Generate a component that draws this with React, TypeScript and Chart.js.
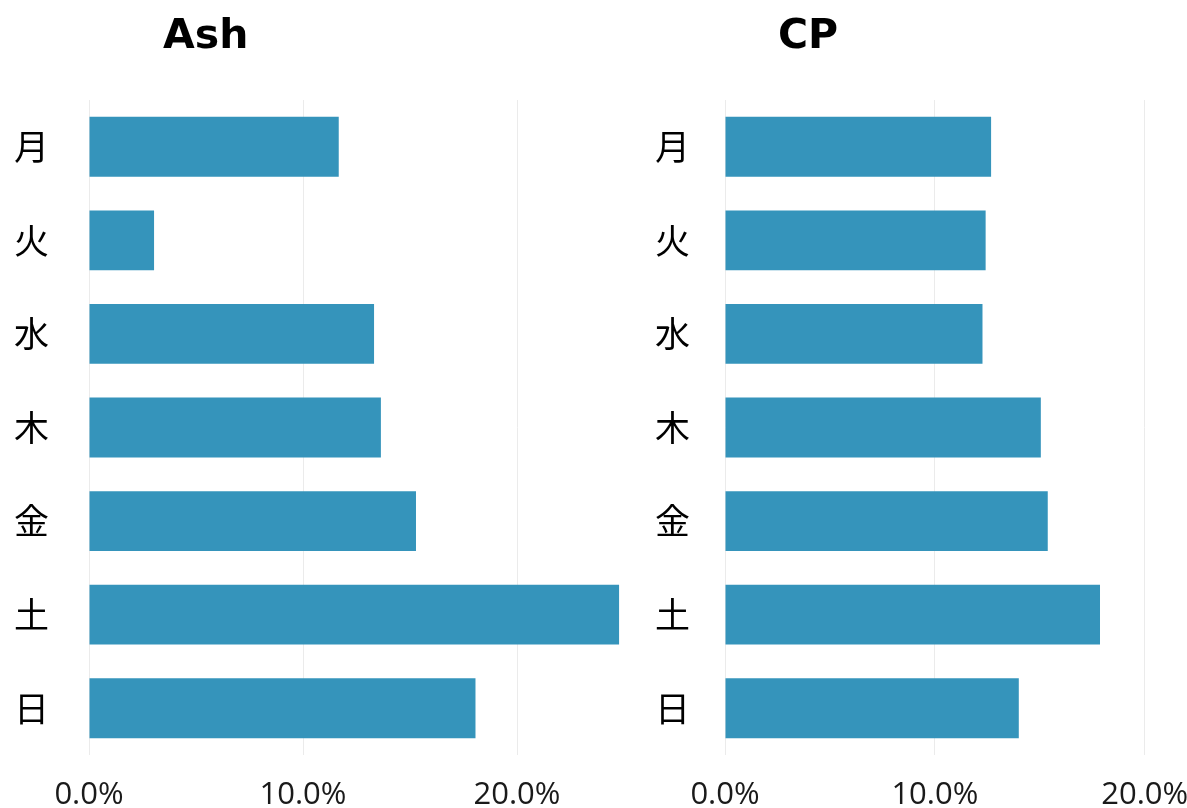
import React, { useEffect, useRef } from "react";
import { Chart, registerables } from "chart.js";

Chart.register(...registerables);

const categories = ["月", "火", "水", "木", "金", "土", "日"];
const ashValues = [11.67, 3.04, 13.32, 13.64, 15.28, 24.77, 18.06];
const cpValues = [12.68, 12.42, 12.27, 15.05, 15.38, 17.87, 14.0];
const tickValues = [0, 10, 20];
const titleAsh = "Ash";
const titleCp = "CP";

const BAR_COLOR = "#3594bb";
const GRID_COLOR = "#ebebeb";

type PanelProps = {
  values: number[];
  xMax: number;
  left: number;
  width: number;
  yAxisWidth: number;
  padRight: number;
  labelPad: number;
};

function Panel({ values, xMax, left, width, yAxisWidth, padRight, labelPad }: PanelProps) {
  const ref = useRef<HTMLCanvasElement | null>(null);
  useEffect(() => {
    if (!ref.current) return;
    const chart = new Chart(ref.current, {
      type: "bar",
      data: {
        labels: categories,
        datasets: [
          {
            data: values,
            backgroundColor: BAR_COLOR,
            borderWidth: 0,
            categoryPercentage: 1,
            barPercentage: 0.64,
          },
        ],
      },
      options: {
        indexAxis: "y",
        responsive: false,
        animation: false,
        devicePixelRatio: 1,
        layout: { padding: { top: 100, right: padRight, left: 0, bottom: 0 } },
        plugins: {
          legend: { display: false },
          tooltip: { enabled: false },
          title: { display: false },
        },
        scales: {
          x: {
            type: "linear",
            min: 0,
            max: xMax,
            afterBuildTicks: (scale: any) => {
              scale.ticks = tickValues.map((v) => ({ value: v }));
            },
            afterFit: (scale: any) => {
              scale.height = 53;
            },
            grid: {
              color: GRID_COLOR,
              lineWidth: 1,
              drawTicks: true,
              tickLength: 22,
              tickColor: "rgba(0,0,0,0)",
            },
            border: { display: false },
            ticks: {
              padding: 0,
              color: "#1a1a1a",
              font: { family: "'Open Sans', sans-serif", size: 31 },
              callback: (v: any) => Number(v).toFixed(1) + "%",
              maxRotation: 0,
            },
          },
          y: {
            type: "category",
            afterFit: (scale: any) => {
              scale.width = yAxisWidth;
            },
            grid: {
              display: true,
              drawOnChartArea: false,
              drawTicks: true,
              tickLength: labelPad,
              color: "rgba(0,0,0,0)",
            },
            border: { display: false },
            ticks: {
              padding: 0,
              color: "#000",
              font: { family: "'Noto Sans CJK JP', sans-serif", size: 35 },
            },
          },
        },
      },
    });
    return () => chart.destroy();
  }, []);
  return (
    <canvas
      ref={ref}
      width={width}
      height={808}
      style={{ position: "absolute", left, top: 0, display: "block" }}
    />
  );
}

const titleStyle: React.CSSProperties = {
  position: "absolute",
  top: 14,
  fontFamily: "'DejaVu Sans', sans-serif",
  fontWeight: 700,
  fontSize: 41,
  lineHeight: "40px",
  color: "#000",
  whiteSpace: "nowrap",
};

export default function App() {
  return (
    <div
      style={{
        position: "fixed",
        left: 0,
        top: 0,
        width: 1187,
        height: 808,
        overflow: "hidden",
        background: "#fff",
      }}
    >
      <Panel values={ashValues} xMax={25} left={0} width={640} yAxisWidth={89} padRight={16} labelPad={40} />
      <Panel values={cpValues} xMax={20.3} left={640} width={560} yAxisWidth={85} padRight={49} labelPad={35} />
      <div style={{ ...titleStyle, left: 163 }}>{titleAsh}</div>
      <div style={{ ...titleStyle, left: 778 }}>{titleCp}</div>
    </div>
  );
}
